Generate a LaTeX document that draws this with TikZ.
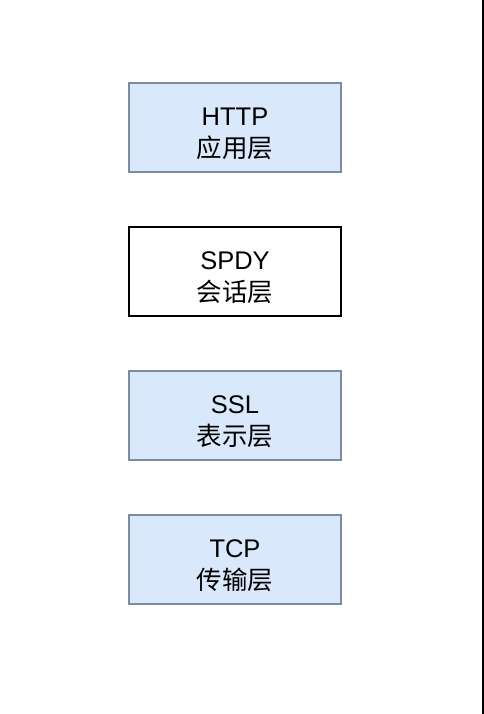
\documentclass[tikz,border=0pt]{standalone}
\usepackage{fontspec}
\setmainfont{Liberation Sans}
\newfontfamily\cjk{Noto Sans CJK SC}
\usepackage{xcolor}
\usetikzlibrary{positioning}
\definecolor{layerfill}{HTML}{DAE8FC}
\definecolor{layerline}{HTML}{7D8AA3}
\newcommand{\layertext}[2]{\rule{0pt}{30pt}#1\\{\cjk #2}}

\begin{document}
\begin{tikzpicture}[
    x=1pt, y=-1pt,
    layer/.style={draw=layerline, fill=layerfill, line width=1.3pt, minimum width=212pt, minimum height=89pt, inner sep=0pt, align=center, font=\fontsize{25.5}{32}\selectfont},
    plain/.style={layer, draw=black, fill=white}
]
    \useasboundingbox (0,0) rectangle (484,714);
    \fill[white] (0,0) rectangle (484,714);

    \node[layer] (http) at (235,127.5) {\layertext{HTTP}{应用层}};
    \node[plain] (spdy) at (235,271.5) {\layertext{SPDY}{会话层}};
    \node[layer] (ssl)  at (235,415.5) {\layertext{SSL}{表示层}};
    \node[layer] (tcp)  at (235,559.5) {\layertext{TCP}{传输层}};

    % page edge on the right
    \fill[black] (481.6,0) rectangle (484,714);
\end{tikzpicture}
\end{document}
